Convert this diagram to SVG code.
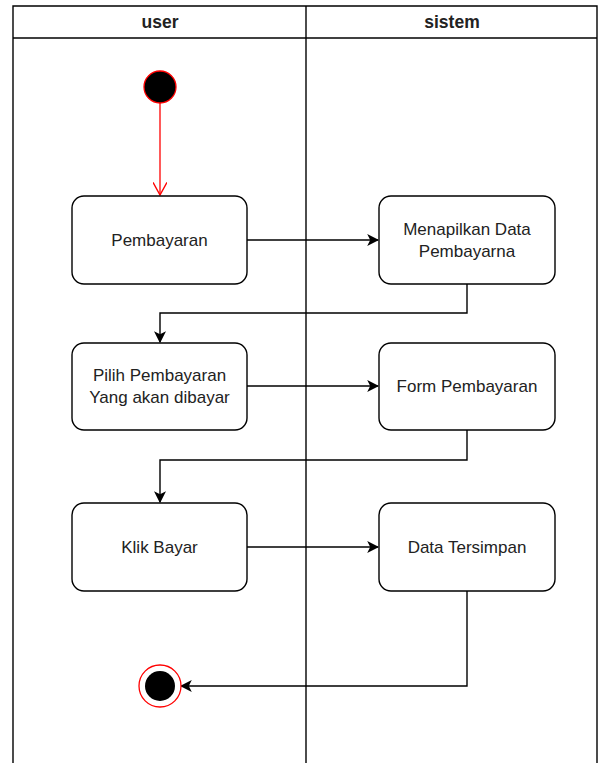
<svg xmlns="http://www.w3.org/2000/svg" width="600" height="763" viewBox="0 0 600 763">
<style>
.lane{fill:none;stroke:#000;stroke-width:1.4}
.hdr{font-family:"Liberation Sans",Arial,sans-serif;font-size:17.5px;font-weight:bold;fill:#222;text-anchor:middle}
.box{fill:#fff;stroke:#000;stroke-width:1.4}
.lbl{font-family:"Liberation Sans",Arial,sans-serif;font-size:17px;fill:#222;text-anchor:middle}
.edge{fill:none;stroke:#000;stroke-width:1.4}
</style>
<defs>
<marker id="ah" viewBox="0 0 10 10" refX="9" refY="5" markerWidth="12" markerHeight="12" markerUnits="userSpaceOnUse" orient="auto">
<path d="M0,0 L10,5 L0,10 L2.5,5 Z" fill="#000"/>
</marker>
<marker id="ahr" viewBox="0 0 10 10" refX="9" refY="5" markerWidth="14" markerHeight="14" markerUnits="userSpaceOnUse" orient="auto">
<path d="M0,0 L9,5 L0,10" fill="none" stroke="#f00" stroke-width="1"/>
</marker>
</defs>
<rect width="600" height="763" fill="#fff"/>
<g id="pool">
<path class="lane" d="M13,770 L13,6 L597,6 L597,770"/>
<line class="lane" x1="13" y1="38" x2="597" y2="38"/>
<line class="lane" x1="306" y1="6" x2="306" y2="770"/>
<text class="hdr" x="160" y="28">user</text>
<text class="hdr" x="452" y="28">sistem</text>
</g>
<g id="connectors">
<line x1="160" y1="103" x2="160" y2="195" stroke="#f00" stroke-width="1.3" marker-end="url(#ahr)"/>
<path class="edge" d="M247,240 L378,240" marker-end="url(#ah)"/>
<path class="edge" d="M467,284 L467,313 L160,313 L160,342" marker-end="url(#ah)"/>
<path class="edge" d="M247,386 L378,386" marker-end="url(#ah)"/>
<path class="edge" d="M467,430 L467,460 L160,460 L160,502" marker-end="url(#ah)"/>
<path class="edge" d="M247,547 L378,547" marker-end="url(#ah)"/>
<path class="edge" d="M467,591 L467,686 L181,686" marker-end="url(#ah)"/>
</g>
<g id="start">
<circle cx="160" cy="87" r="16" fill="#000" stroke="#f00" stroke-width="1.3"/>
</g>
<g id="pembayaran">
<rect class="box" x="72" y="196" width="175" height="88" rx="12"/>
<text class="lbl" x="159.5" y="246">Pembayaran</text>
</g>
<g id="menampilkan">
<rect class="box" x="379" y="196" width="176" height="88" rx="12"/>
<text class="lbl" x="467" y="235">Menapilkan Data</text>
<text class="lbl" x="467" y="257">Pembayarna</text>
</g>
<g id="pilih">
<rect class="box" x="72" y="343" width="175" height="87" rx="12"/>
<text class="lbl" x="159.5" y="381">Pilih Pembayaran</text>
<text class="lbl" x="159.5" y="403">Yang akan dibayar</text>
</g>
<g id="form">
<rect class="box" x="379" y="343" width="176" height="87" rx="12"/>
<text class="lbl" x="467" y="392">Form Pembayaran</text>
</g>
<g id="klik">
<rect class="box" x="72" y="503" width="175" height="88" rx="12"/>
<text class="lbl" x="159.5" y="553">Klik Bayar</text>
</g>
<g id="tersimpan">
<rect class="box" x="379" y="503" width="176" height="88" rx="12"/>
<text class="lbl" x="467" y="553">Data Tersimpan</text>
</g>
<g id="end">
<circle cx="160" cy="686" r="21" fill="#fff" stroke="#f00" stroke-width="1.3"/>
<circle cx="160" cy="686" r="15" fill="#000"/>
</g>
</svg>
